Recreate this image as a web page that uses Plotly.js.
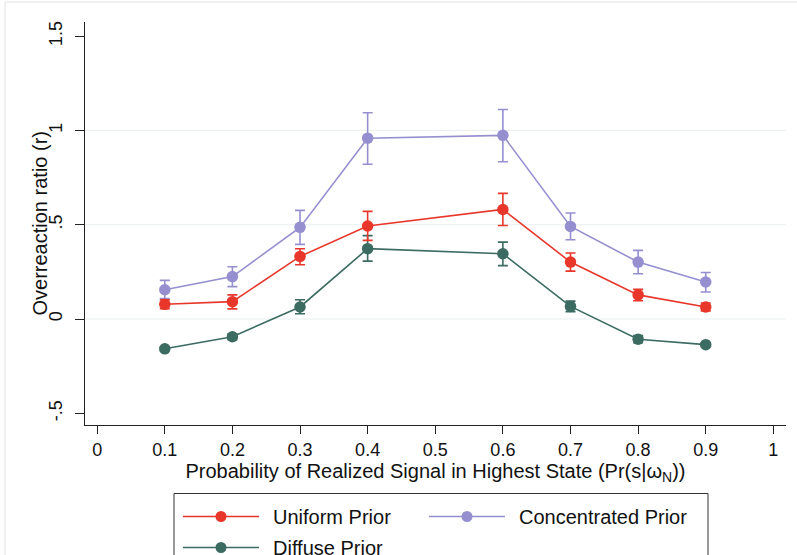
<!DOCTYPE html>
<html>
<head>
<meta charset="utf-8">
<script src="https://cdn.plot.ly/plotly-3.0.1.min.js"></script>
<style>
  html, body { margin: 0; padding: 0; background: #ffffff; }
  #chart { width: 797px; height: 555px; }
</style>
</head>
<body>
<div id="chart"></div>
<script>
// Signal probability in the highest state
const signalProb = [0.1, 0.2, 0.3, 0.4, 0.6, 0.7, 0.8, 0.9];

// Overreaction ratio by prior, with 95% confidence bounds
const uniformR  = [0.078, 0.092, 0.332, 0.493, 0.581, 0.302, 0.128, 0.064];
const uniformHi = [0.102, 0.128, 0.373, 0.571, 0.666, 0.350, 0.157, 0.085];
const uniformLo = [0.055, 0.054, 0.288, 0.417, 0.496, 0.254, 0.097, 0.043];

const concentratedR  = [0.155, 0.225, 0.486, 0.959, 0.974, 0.491, 0.302, 0.196];
const concentratedHi = [0.205, 0.277, 0.576, 1.094, 1.111, 0.562, 0.364, 0.247];
const concentratedLo = [0.108, 0.172, 0.396, 0.821, 0.834, 0.420, 0.240, 0.143];

const diffuseR  = [-0.158, -0.094, 0.064, 0.373, 0.346, 0.067, -0.107, -0.136];
const diffuseHi = [-0.148, -0.078, 0.102, 0.442, 0.408, 0.095, -0.088, -0.126];
const diffuseLo = [-0.168, -0.110, 0.028, 0.307, 0.283, 0.039, -0.126, -0.146];

const seriesNames = ['Uniform Prior', 'Concentrated Prior', 'Diffuse Prior'];

const xTicks = [0, 0.1, 0.2, 0.3, 0.4, 0.5, 0.6, 0.7, 0.8, 0.9, 1];
const xTickText = ['0', '0.1', '0.2', '0.3', '0.4', '0.5', '0.6', '0.7', '0.8', '0.9', '1'];
const yTicks = [-0.5, 0, 0.5, 1, 1.5];
const yTickText = ['-.5', '0', '.5', '1', '1.5'];
const yGrid = [0, 0.5, 1];

const RED = '#e8372a';
const LAV = '#958fd0';
const TEAL = '#3c6b62';
const FONT = 'Liberation Sans, Arial, Helvetica, sans-serif';

function series(name, y, hi, lo, color) {
  return {
    type: 'scatter',
    mode: 'lines+markers',
    name: name,
    x: signalProb,
    y: y,
    line: { color: color, width: 1.6 },
    marker: { color: color, size: 11.5, symbol: 'circle' },
    error_y: {
      type: 'data',
      symmetric: false,
      array: hi.map((v, i) => v - y[i]),
      arrayminus: lo.map((v, i) => y[i] - v),
      color: color,
      thickness: 1.6,
      width: 5
    },
    showlegend: false,
    hoverinfo: 'x+y'
  };
}

const traces = [
  series(seriesNames[1], concentratedR, concentratedHi, concentratedLo, LAV),
  series(seriesNames[2], diffuseR, diffuseHi, diffuseLo, TEAL),
  series(seriesNames[0], uniformR, uniformHi, uniformLo, RED)
];

// Plot area in pixels
const W = 797, H = 555;
const M = { l: 85, r: 11, t: 22, b: 130 };
const PW = W - M.l - M.r, PH = H - M.t - M.b;
const px = x => (x - M.l) / PW;
const py = y => (M.t + PH - y) / PH;

const shapes = [];
// light horizontal gridlines
yGrid.forEach(v => shapes.push({
  type: 'line', xref: 'paper', yref: 'y', x0: 0, x1: 1, y0: v, y1: v,
  line: { color: '#e9eff1', width: 1 }, layer: 'below'
}));
// outer graph frame
shapes.push({
  type: 'rect', xref: 'paper', yref: 'paper',
  x0: px(5), x1: px(810), y0: py(2), y1: py(570),
  line: { color: '#e2e2e2', width: 1 }, layer: 'below'
});
// legend box
shapes.push({
  type: 'rect', xref: 'paper', yref: 'paper',
  x0: px(174), x1: px(708), y0: py(493.5), y1: py(575),
  line: { color: '#333333', width: 1 }, fillcolor: 'rgba(0,0,0,0)'
});

const annotations = [];
// y-axis title, set close to the tick labels
annotations.push({
  xref: 'paper', yref: 'paper', x: px(39), y: 0.5,
  xanchor: 'center', yanchor: 'middle', textangle: -90, showarrow: false,
  text: 'Overreaction ratio (r)',
  font: { family: FONT, size: 20, color: '#111111' }
});
// legend entries: [key line start x, row y, color, label]
const keys = [
  [183, 516.5, RED, seriesNames[0]],
  [429, 516.5, LAV, seriesNames[1]],
  [183, 547.5, TEAL, seriesNames[2]]
];
keys.forEach(([kx, ky, col, label]) => {
  shapes.push({
    type: 'line', xref: 'paper', yref: 'paper',
    x0: px(kx), x1: px(kx + 76), y0: py(ky), y1: py(ky),
    line: { color: col, width: 1.6 }
  });
  shapes.push({
    type: 'circle', xref: 'paper', yref: 'paper',
    x0: px(kx + 38 - 5.5), x1: px(kx + 38 + 5.5),
    y0: py(ky - 5.5), y1: py(ky + 5.5),
    line: { color: col, width: 0 }, fillcolor: col
  });
  annotations.push({
    xref: 'paper', yref: 'paper', x: px(kx + 88), y: py(ky),
    xanchor: 'left', yanchor: 'middle', showarrow: false,
    text: label, font: { family: FONT, size: 20, color: '#111111' }
  });
});

const layout = {
  width: W, height: H,
  margin: M,
  paper_bgcolor: '#ffffff',
  plot_bgcolor: '#ffffff',
  font: { family: FONT, color: '#111111' },
  showlegend: false,
  xaxis: {
    range: [-0.018, 1.0187],
    tickvals: xTicks, ticktext: xTickText,
    ticks: 'outside', ticklen: 8, tickwidth: 1, tickcolor: '#222222',
    showline: true, linecolor: '#222222', linewidth: 1,
    showgrid: false, zeroline: false,
    tickfont: { family: FONT, size: 18, color: '#111111' },
    title: {
      text: 'Probability of Realized Signal in Highest State (Pr(s|ω<sub>N</sub>))',
      font: { family: FONT, size: 20, color: '#111111' },
      standoff: 0
    },
    automargin: false
  },
  yaxis: {
    range: [-0.562, 1.575],
    tickvals: yTicks, ticktext: yTickText, tickangle: -90,
    ticks: 'outside', ticklen: 9, tickwidth: 1, tickcolor: '#222222',
    ticklabelstandoff: 6,
    showline: true, linecolor: '#222222', linewidth: 1,
    showgrid: false, zeroline: false,
    tickfont: { family: FONT, size: 18, color: '#111111' },
    automargin: false
  },
  shapes: shapes,
  annotations: annotations
};

Plotly.newPlot('chart', traces, layout, { displayModeBar: false, staticPlot: true });
</script>
</body>
</html>
